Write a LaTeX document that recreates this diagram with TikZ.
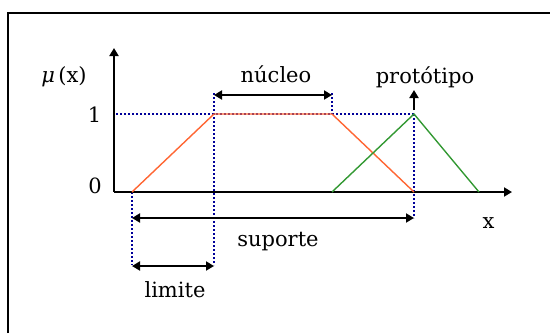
\documentclass[tikz,border=0pt]{standalone}
\usepackage{fontspec}
\setmainfont{DejaVu Serif}
\usetikzlibrary{arrows.meta}
\definecolor{trapcol}{RGB}{255,102,51}
\definecolor{tricol}{RGB}{51,153,51}
\definecolor{guidecol}{RGB}{0,0,153}
\begin{document}
\begin{tikzpicture}[x=1pt, y=-1pt, >={Triangle[length=8pt,width=9pt]},
  axis/.style={line width=1.8pt, ->},
  span/.style={line width=1.8pt, <->},
  guide/.style={guidecol, line width=1.7pt, dash pattern=on 1.7pt off 2.3pt},
  member/.style={line width=1.4pt},
  lbl/.style={font=\fontsize{21}{21}\selectfont, inner sep=0pt, anchor=base}]
\useasboundingbox (0,0) rectangle (550,333);
\fill[white] (0,0) rectangle (550,333);
\draw[line width=2pt] (7.5,333) |- (550,12.7);
% points of the axes and of the two sets
\coordinate (o) at (114,192);
\coordinate (ytop) at (114,48);
\coordinate (xend) at (512,192);
\coordinate (a) at (132,192);
\coordinate (b) at (214,114);
\coordinate (c) at (332,114);
\coordinate (d) at (414,192);
\coordinate (p) at (414,114);
\coordinate (e) at (479,192);
\coordinate (yone) at (116,114);
\coordinate (ptop) at (414,90);
\coordinate (pbot) at (414,110);
% guides
\draw[guide] (yone) -- (p);
\draw[guide] (a) -- (132,265);
\draw[guide] (214,93) -- (214,265);
\draw[guide] (332,93) -- (c);
\draw[guide] (p) -- (414,218);
% axes
\draw[axis] (o) -- (ytop);
\draw[axis] (o) -- (xend);
% sets
\draw[member, trapcol] (a) -- (b) -- (c) -- (d);
\draw[member, tricol] (c |- o) -- (p) -- (e);
% spans
\draw[span] (214,95) -- (332,95);
\draw[span] (132,218) -- (414,218);
\draw[span] (132,266) -- (214,266);
\draw[axis] (pbot) -- (ptop);
% labels
\node[lbl] (mu) at (64,82) {\textit{μ}\,(x)};
\node[lbl] (one) at (94.5,122) {1};
\node[lbl] (zero) at (95,193) {0};
\node[lbl] (xlab) at (488.5,228) {x};
\node[lbl] (nucleo) at (276,82) {núcleo};
\node[lbl] (proto) at (425,83) {protótipo};
\node[lbl] (suporte) at (278,246.5) {suporte};
\node[lbl] (limite) at (175,297.5) {limite};
\end{tikzpicture}
\end{document}
